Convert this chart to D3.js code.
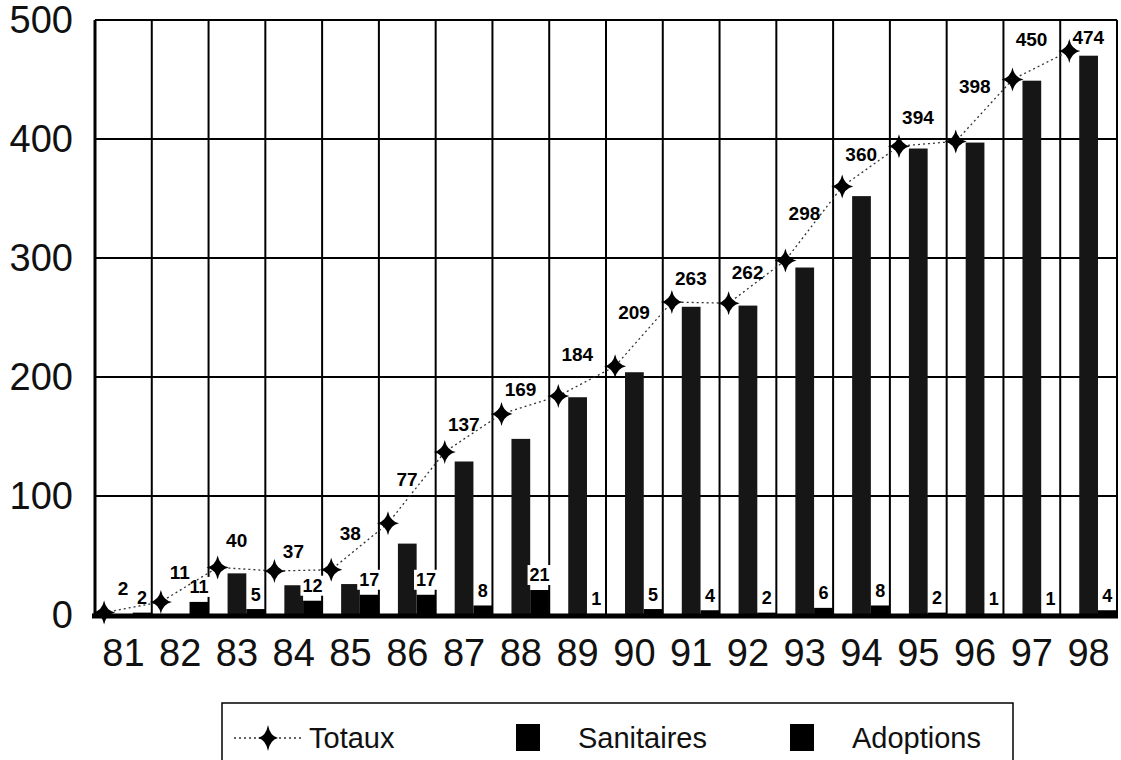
<!DOCTYPE html>
<html>
<head>
<meta charset="utf-8">
<script src="https://cdn.jsdelivr.net/npm/d3@7"></script>
<style>
  body { margin: 0; background: #fff; }
  svg { display: block; font-family: Arial, "Liberation Sans", sans-serif; }
</style>
</head>
<body>
<div id="chart"></div>
<script>
// Data
const years = ["81", "82", "83", "84", "85", "86", "87", "88", "89", "90", "91", "92", "93", "94", "95", "96", "97", "98"];
const sanitaires = [0, 0, 35, 25, 26, 60, 129, 148, 183, 204, 259, 260, 292, 352, 392, 397, 449, 470];
const adoptions = [2, 11, 5, 12, 17, 17, 8, 21, 1, 5, 4, 2, 6, 8, 2, 1, 1, 4];
const totaux = [2, 11, 40, 37, 38, 77, 137, 169, 184, 209, 263, 262, 298, 360, 394, 398, 450, 474];
const yTicks = [0, 100, 200, 300, 400, 500];

// Vertical lift of each "Totaux" label above its marker (hand-placed in the original)
const totalLabelLift = [24, 30, 27, 20, 37, 44, 28, 25, 42, 54, 24, 31, 47, 32, 29, 55, 40, 14];

const width = 1121;
const height = 760;
const plot = { left: 95, right: 1117, top: 20, bottom: 615 };

const svg = d3.select("#chart")
    .append("svg")
    .attr("width", width)
    .attr("height", height);

// Scales
const x = d3.scaleBand()
    .domain(years)
    .range([plot.left, plot.right])
    .padding(0);

const y = d3.scaleLinear()
    .domain([0, 500])
    .range([plot.bottom, plot.top]);

const bw = x.bandwidth();

// Gridlines
const grid = svg.append("g").attr("stroke", "#000").attr("stroke-width", 2);
yTicks.filter(t => t > 0).forEach(t => {
    grid.append("line")
        .attr("x1", plot.left).attr("x2", plot.right)
        .attr("y1", y(t)).attr("y2", y(t));
});
years.forEach((yr, i) => {
    if (i === 0) return;
    grid.append("line")
        .attr("x1", x(yr)).attr("x2", x(yr))
        .attr("y1", plot.top).attr("y2", plot.bottom);
});
grid.append("line")
    .attr("x1", plot.right).attr("x2", plot.right)
    .attr("y1", plot.top).attr("y2", plot.bottom);

// Bars: Sanitaires then Adoptions inside each year
const sanX = yr => x(yr) + bw * 0.335;
const adoX = yr => x(yr) + bw * 0.665;
const barW = bw * 0.33;

svg.append("g").selectAll("rect")
    .data(years)
    .join("rect")
    .attr("x", d => sanX(d))
    .attr("y", (d, i) => y(sanitaires[i]))
    .attr("width", barW)
    .attr("height", (d, i) => y(0) - y(sanitaires[i]))
    .attr("fill", "#161616");

svg.append("g").selectAll("rect")
    .data(years)
    .join("rect")
    .attr("x", d => adoX(d))
    .attr("y", (d, i) => y(adoptions[i]))
    .attr("width", barW)
    .attr("height", (d, i) => y(0) - y(adoptions[i]))
    .attr("fill", "#000");

// Adoption value labels, on a white patch just above each small bar
const adoLabels = svg.append("g")
    .attr("font-size", 18)
    .attr("font-weight", "bold");

years.forEach((yr, i) => {
    const cx = adoX(yr) + barW / 2;
    const cy = y(adoptions[i]) - 15;
    const txt = String(adoptions[i]);
    const w = txt.length * 10 + 4;
    adoLabels.append("rect")
        .attr("x", cx - w / 2).attr("y", cy - 10)
        .attr("width", w).attr("height", 20)
        .attr("fill", "#fff");
    adoLabels.append("text")
        .attr("x", cx).attr("y", cy)
        .attr("dy", "0.36em")
        .attr("text-anchor", "middle")
        .text(txt);
});

// Axes lines
svg.append("line")
    .attr("x1", plot.left).attr("x2", plot.left)
    .attr("y1", plot.top).attr("y2", plot.bottom + 2)
    .attr("stroke", "#000").attr("stroke-width", 3);
svg.append("line")
    .attr("x1", plot.left - 3).attr("x2", plot.right + 1)
    .attr("y1", plot.bottom + 1).attr("y2", plot.bottom + 1)
    .attr("stroke", "#000").attr("stroke-width", 5);
svg.append("line")
    .attr("x1", plot.left).attr("x2", plot.right)
    .attr("y1", plot.top).attr("y2", plot.top)
    .attr("stroke", "#000").attr("stroke-width", 2);

// Tick labels
const yAxis = svg.append("g")
    .attr("transform", `translate(${plot.left},0)`)
    .call(d3.axisLeft(y).tickValues(yTicks).tickSize(0).tickPadding(22));
yAxis.select(".domain").remove();
yAxis.selectAll("text")
    .attr("font-size", 38)
    .attr("font-family", "Arial, 'Liberation Sans', sans-serif")
    .attr("fill", "#111");

const xAxis = svg.append("g")
    .attr("transform", `translate(0,${plot.bottom})`)
    .call(d3.axisBottom(x).tickSize(0).tickPadding(24));
xAxis.select(".domain").remove();
xAxis.selectAll("text")
    .attr("font-size", 38)
    .attr("font-family", "Arial, 'Liberation Sans', sans-serif")
    .attr("fill", "#111");

// Totaux line with four-point star markers
const starPath = (w, h) => {
    const a = 2;
    return `M0,${-h}Q${a},${-a} ${w},0Q${a},${a} 0,${h}Q${-a},${a} ${-w},0Q${-a},${-a} 0,${-h}Z`;
};
const starX = yr => x(yr) + bw * 0.16;

const line = d3.line()
    .x((d, i) => starX(years[i]))
    .y(d => y(d));

svg.append("path")
    .datum(totaux)
    .attr("d", line)
    .attr("fill", "none")
    .attr("stroke", "#333")
    .attr("stroke-width", 1.3)
    .attr("stroke-dasharray", "2,3");

svg.append("g").selectAll("path")
    .data(totaux)
    .join("path")
    .attr("transform", (d, i) => `translate(${starX(years[i])},${y(d)})`)
    .attr("d", starPath(11, 12))
    .attr("fill", "#000");

svg.append("g")
    .attr("font-size", 19)
    .attr("font-weight", "bold")
    .selectAll("text")
    .data(totaux)
    .join("text")
    .attr("x", (d, i) => starX(years[i]) + 19)
    .attr("y", (d, i) => y(d) - totalLabelLift[i])
    .attr("dy", "0.36em")
    .attr("text-anchor", "middle")
    .text(d => d);

// Legend
const legend = svg.append("g");
legend.append("rect")
    .attr("x", 222).attr("y", 703)
    .attr("width", 791).attr("height", 70)
    .attr("fill", "#fff")
    .attr("stroke", "#000").attr("stroke-width", 1.5);

legend.append("line")
    .attr("x1", 234).attr("x2", 302)
    .attr("y1", 738).attr("y2", 738)
    .attr("stroke", "#333").attr("stroke-width", 1.3)
    .attr("stroke-dasharray", "2,3");
legend.append("path")
    .attr("transform", "translate(268,738)")
    .attr("d", starPath(10, 13))
    .attr("fill", "#000");

const legendItems = [
    { label: "Totaux", tx: 309 },
    { label: "Sanitaires", tx: 578, sq: 516 },
    { label: "Adoptions", tx: 852, sq: 790 }
];
legendItems.forEach(item => {
    if (item.sq) {
        legend.append("rect")
            .attr("x", item.sq).attr("y", 724)
            .attr("width", 24).attr("height", 27)
            .attr("fill", "#000");
    }
    legend.append("text")
        .attr("x", item.tx).attr("y", 738)
        .attr("dy", "0.36em")
        .attr("font-size", 29)
        .attr("fill", "#111")
        .text(item.label);
});
</script>
</body>
</html>
